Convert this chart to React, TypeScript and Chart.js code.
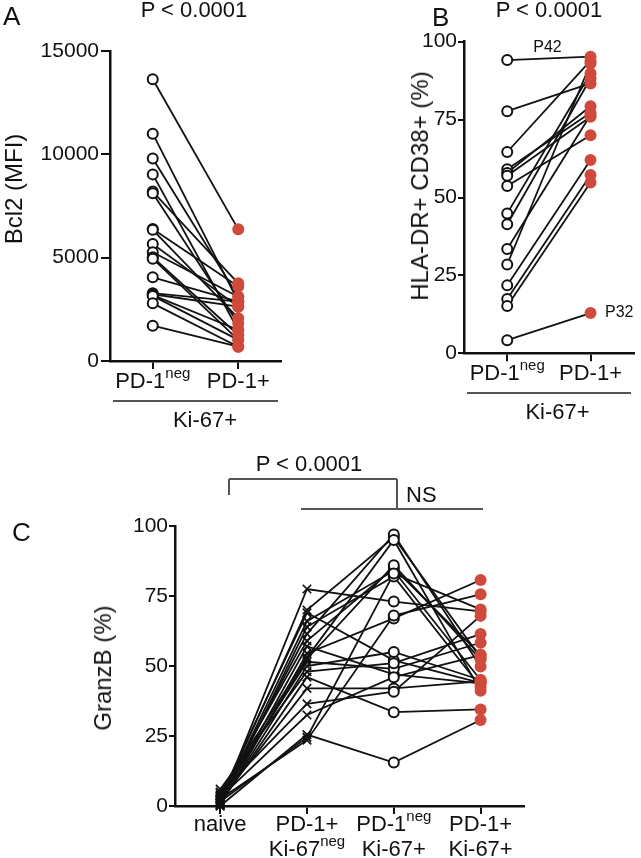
import React, { useEffect, useRef } from 'react';
import { Chart, registerables } from 'chart.js';

Chart.register(...registerables);

const FONT = '"Liberation Sans", Arial, Helvetica, sans-serif';
const RED = '#d04a3b';
const INK = '#111';

// ---------- Panel A: Bcl2 (MFI) ----------
const catA = ['PD-1^neg', 'PD-1+'];
const bcl2Neg = [13630, 11000, 9800, 9030, 8200, 8120, 6390, 6350, 5660, 5260, 5020, 4950, 4050, 3280, 3230, 3190, 3150, 2790, 1710];
const bcl2Pos = [6370, 2870, 3110, 1500, 3760, 1820, 3600, 2070, 2630, 3110, 1260, 1020, 2870, 2870, 2630, 1500, 1020, 690, 690];
const ticksA = [0, 5000, 10000, 15000];

// ---------- Panel B: HLA-DR+ CD38+ (%) ----------
const catB = ['PD-1^neg', 'PD-1+'];
const hlaNeg = [94.1, 77.7, 64.6, 59.1, 57.9, 57.0, 53.7, 44.9, 41.4, 33.5, 28.5, 21.8, 17.4, 15.2, 4.2];
const hlaPos = [95.2, 86.6, 93.9, 77.2, 79.3, 75.9, 70.0, 89.9, 88.2, 76.5, 93.0, 62.0, 57.2, 54.8, 12.9];
const ticksB = [0, 25, 50, 75, 100];

// ---------- Panel C: GranzB (%) ----------
const catC = ['naive', 'PD-1+\nKi-67^neg', 'PD-1^neg\nKi-67+', 'PD-1+\nKi-67+'];
const gzNaive = [1, 2, 3, 1.5, 0.5, 2.5, 4, 1, 0, 5, 2, 3.5, 0.5, 6, 1, 2, 4.5, 3, 0, 1.5, 2.5];
const gzPd1Ki67neg = [77.5, 70, 69, 66, 64, 61.5, 59, 57, 54.5, 53, 52.5, 51.5, 50, 48, 46, 42, 36.5, 32.5, 25.5, 24.5, 23.5];
const gzPd1negKi67 = [73, 96, 52, 84, 82, 97, 85, 47, 67, 95, 86, 49, 55, 51, 33.5, 42, 40.8, 46, 15.5, 83, 68];
const gzPd1Ki67 = [69.5, 53, 44, 45, 42.6, 49.8, 54, 43.8, 80.7, 41.2, 52.4, 58.3, 45, 61.4, 34.5, 44.5, 67.9, 53.9, 30.7, 70.2, 75.6];
const ticksC = [0, 25, 50, 75, 100];

type Mark = 'cross' | 'open' | 'red';

const richTicks = {
  id: 'richTicks',
  afterDraw(chart: any, _args: any, opts: any) {
    const { ctx, chartArea, scales } = chart;
    const xs = scales.x;
    ctx.save();
    ctx.fillStyle = INK;
    ctx.textBaseline = 'alphabetic';
    ctx.textAlign = 'left';
    (opts.labels as string[]).forEach((label, i) => {
      const px = xs.getPixelForValue(i);
      label.split('\n').forEach((line, li) => {
        const [main, sup] = line.split('^');
        ctx.font = `${opts.size}px ${FONT}`;
        const wMain = ctx.measureText(main).width;
        ctx.font = `${opts.supSize}px ${FONT}`;
        const wSup = sup ? ctx.measureText(sup).width : 0;
        const left = px - (wMain + wSup) / 2;
        const base = chartArea.bottom + opts.first + li * opts.gap;
        ctx.font = `${opts.size}px ${FONT}`;
        ctx.fillText(main, left, base);
        if (sup) {
          ctx.font = `${opts.supSize}px ${FONT}`;
          ctx.fillText(sup, left + wMain, base - opts.supRise);
        }
      });
    });
    ctx.restore();
  },
};

interface PanelSpec {
  columns: number[][];
  marks: Mark[];
  labels: string[];
  yTicks: number[];
  xMin: number;
  xMax: number;
  canvasW: number;
  canvasH: number;
  area: { left: number; top: number; right: number; bottom: number };
  first: number;
  gap: number;
  yTickLen: number;
  yPad: number;
}

function markStyle(m: Mark) {
  if (m === 'cross') return { pointStyle: 'crossRot', pointRadius: 6, pointBorderWidth: 1.7, pointBackgroundColor: INK, pointBorderColor: INK };
  if (m === 'open') return { pointStyle: 'circle', pointRadius: 5, pointBorderWidth: 2, pointBackgroundColor: '#fff', pointBorderColor: INK };
  return { pointStyle: 'circle', pointRadius: 6, pointBorderWidth: 0, pointBackgroundColor: RED, pointBorderColor: RED };
}

function buildConfig(s: PanelSpec): any {
  const n = s.columns[0].length;
  const lineSets = [] as any[];
  for (let i = 0; i < n; i++) {
    lineSets.push({
      data: s.columns.map((col, j) => ({ x: j, y: col[i] })),
      showLine: true,
      borderColor: INK,
      borderWidth: 1.8,
      pointRadius: 0,
      clip: false,
      order: 1,
    });
  }
  const pointSets = s.columns.map((col, j) => ({
    data: col.map((v) => ({ x: j, y: v })),
    showLine: false,
    clip: false,
    order: 0,
    ...markStyle(s.marks[j]),
  }));
  const yMax = s.yTicks[s.yTicks.length - 1];
  const yW = s.area.left;
  const xH = s.canvasH - s.area.bottom;
  return {
    type: 'scatter',
    data: { datasets: [...lineSets, ...pointSets] },
    plugins: [richTicks],
    options: {
      responsive: false,
      maintainAspectRatio: false,
      animation: false,
      events: [],
      layout: { padding: { left: 0, top: s.area.top, right: s.canvasW - s.area.right, bottom: 0 } },
      plugins: {
        legend: { display: false },
        tooltip: { enabled: false },
        richTicks: { labels: s.labels, size: 22, supSize: 15, supRise: 10, first: s.first, gap: s.gap },
      },
      scales: {
        x: {
          type: 'linear',
          min: s.xMin,
          max: s.xMax,
          afterBuildTicks: (sc: any) => {
            sc.ticks = s.labels.map((_, i) => ({ value: i }));
          },
          afterFit: (sc: any) => {
            sc.height = xH;
          },
          ticks: { display: false },
          grid: { drawOnChartArea: false, drawTicks: true, tickLength: 8, color: INK, lineWidth: 2 },
          border: { display: true, color: INK, width: 2.5 },
        },
        y: {
          type: 'linear',
          min: 0,
          max: yMax,
          afterBuildTicks: (sc: any) => {
            sc.ticks = s.yTicks.map((v) => ({ value: v }));
          },
          afterFit: (sc: any) => {
            sc.width = yW;
          },
          ticks: {
            color: INK,
            font: { family: FONT, size: 21 },
            padding: s.yPad,
            callback: (v: any) => String(v),
          },
          grid: { drawOnChartArea: false, drawTicks: true, tickLength: s.yTickLen, color: INK, lineWidth: 2 },
          border: { display: true, color: INK, width: 2.5 },
        },
      },
    },
  };
}

function Panel({ x, y, spec }: { x: number; y: number; spec: PanelSpec }) {
  const ref = useRef<HTMLCanvasElement | null>(null);
  useEffect(() => {
    if (!ref.current) return;
    const chart = new Chart(ref.current, buildConfig(spec));
    return () => chart.destroy();
  }, []);
  return (
    <canvas
      ref={ref}
      width={spec.canvasW}
      height={spec.canvasH}
      style={{ position: 'absolute', left: x, top: y, width: spec.canvasW, height: spec.canvasH, display: 'block' }}
    />
  );
}

function Txt({ x, base, size, children, align = 'center' }: any) {
  const top = base - 0.8465 * size;
  return (
    <div
      style={{
        position: 'absolute',
        left: x,
        top,
        fontSize: size,
        lineHeight: `${size}px`,
        whiteSpace: 'nowrap',
        transform: align === 'center' ? 'translateX(-50%)' : undefined,
        color: INK,
      }}
    >
      {children}
    </div>
  );
}

function VTxt({ cx, cy, size, children }: any) {
  return (
    <div
      style={{
        position: 'absolute',
        left: cx,
        top: cy,
        fontSize: size,
        lineHeight: `${size}px`,
        whiteSpace: 'nowrap',
        transform: 'translate(-50%, -50%) rotate(-90deg)',
        color: INK,
      }}
    >
      {children}
    </div>
  );
}

function HLine({ x1, x2, y, w = 1.3, c = '#555' }: any) {
  return <div style={{ position: 'absolute', left: x1, top: y - w / 2, width: x2 - x1, height: w, background: c }} />;
}
function VLine({ x, y1, y2, w = 1.3, c = '#555' }: any) {
  return <div style={{ position: 'absolute', left: x - w / 2, top: y1, width: w, height: y2 - y1, background: c }} />;
}

const specA: PanelSpec = {
  columns: [bcl2Neg, bcl2Pos],
  marks: ['open', 'red'],
  labels: catA,
  yTicks: ticksA,
  xMin: -0.5,
  xMax: 1.5,
  canvasW: 300,
  canvasH: 440,
  area: { left: 110, top: 51, right: 281, bottom: 361 },
  first: 27,
  gap: 25,
  yTickLen: 9,
  yPad: 2,
};

const specB: PanelSpec = {
  columns: [hlaNeg, hlaPos],
  marks: ['open', 'red'],
  labels: catB,
  yTicks: ticksB,
  xMin: -0.519,
  xMax: 1.522,
  canvasW: 241,
  canvasH: 440,
  area: { left: 64, top: 41.7, right: 241, bottom: 353.3 },
  first: 27,
  gap: 25,
  yTickLen: 6,
  yPad: 1,
};

const specC: PanelSpec = {
  columns: [gzNaive, gzPd1Ki67neg, gzPd1negKi67, gzPd1Ki67],
  marks: ['cross', 'cross', 'open', 'red'],
  labels: catC,
  yTicks: ticksC,
  xMin: -0.52,
  xMax: 3.5,
  canvasW: 560,
  canvasH: 408,
  area: { left: 175, top: 76, right: 524, bottom: 356 },
  first: 25,
  gap: 25,
  yTickLen: 6,
  yPad: 1,
};

export default function App() {
  return (
    <div
      style={{
        position: 'absolute',
        left: 0,
        top: 0,
        width: 641,
        height: 858,
        background: '#fff',
        overflow: 'hidden',
        fontFamily: FONT,
      }}
    >
      <Panel x={0} y={0} spec={specA} />
      <Panel x={400} y={0} spec={specB} />
      <Panel x={0} y={450} spec={specC} />

      {/* Panel A annotations */}
      <Txt x={3} base={25} size={26} align="left">A</Txt>
      <Txt x={194} base={18} size={22}>P &lt; 0.0001</Txt>
      <VTxt cx={14} cy={189} size={24}>Bcl2 (MFI)</VTxt>
      <HLine x1={113} x2={278} y={401} />
      <Txt x={205} base={428} size={22}>Ki-67+</Txt>

      {/* Panel B annotations */}
      <Txt x={432} base={26} size={26} align="left">B</Txt>
      <Txt x={549} base={18} size={22}>P &lt; 0.0001</Txt>
      <VTxt cx={420} cy={186} size={24}>HLA-DR+ CD38+ (%)</VTxt>
      <Txt x={547.5} base={53} size={16}>P42</Txt>
      <Txt x={605} base={318} size={16} align="left">P32</Txt>
      <HLine x1={467} x2={631} y={393} />
      <Txt x={557.5} base={420} size={22}>Ki-67+</Txt>

      {/* Panel C annotations */}
      <Txt x={12} base={541} size={26} align="left">C</Txt>
      <Txt x={309} base={472} size={22}>P &lt; 0.0001</Txt>
      <HLine x1={229} x2={397} y={479} />
      <VLine x={229} y1={479} y2={495} />
      <VLine x={397} y1={479} y2={509} />
      <HLine x1={301} x2={483} y={509} />
      <Txt x={406} base={503} size={22} align="left">NS</Txt>
      <VTxt cx={103} cy={668} size={24}>GranzB (%)</VTxt>
    </div>
  );
}
